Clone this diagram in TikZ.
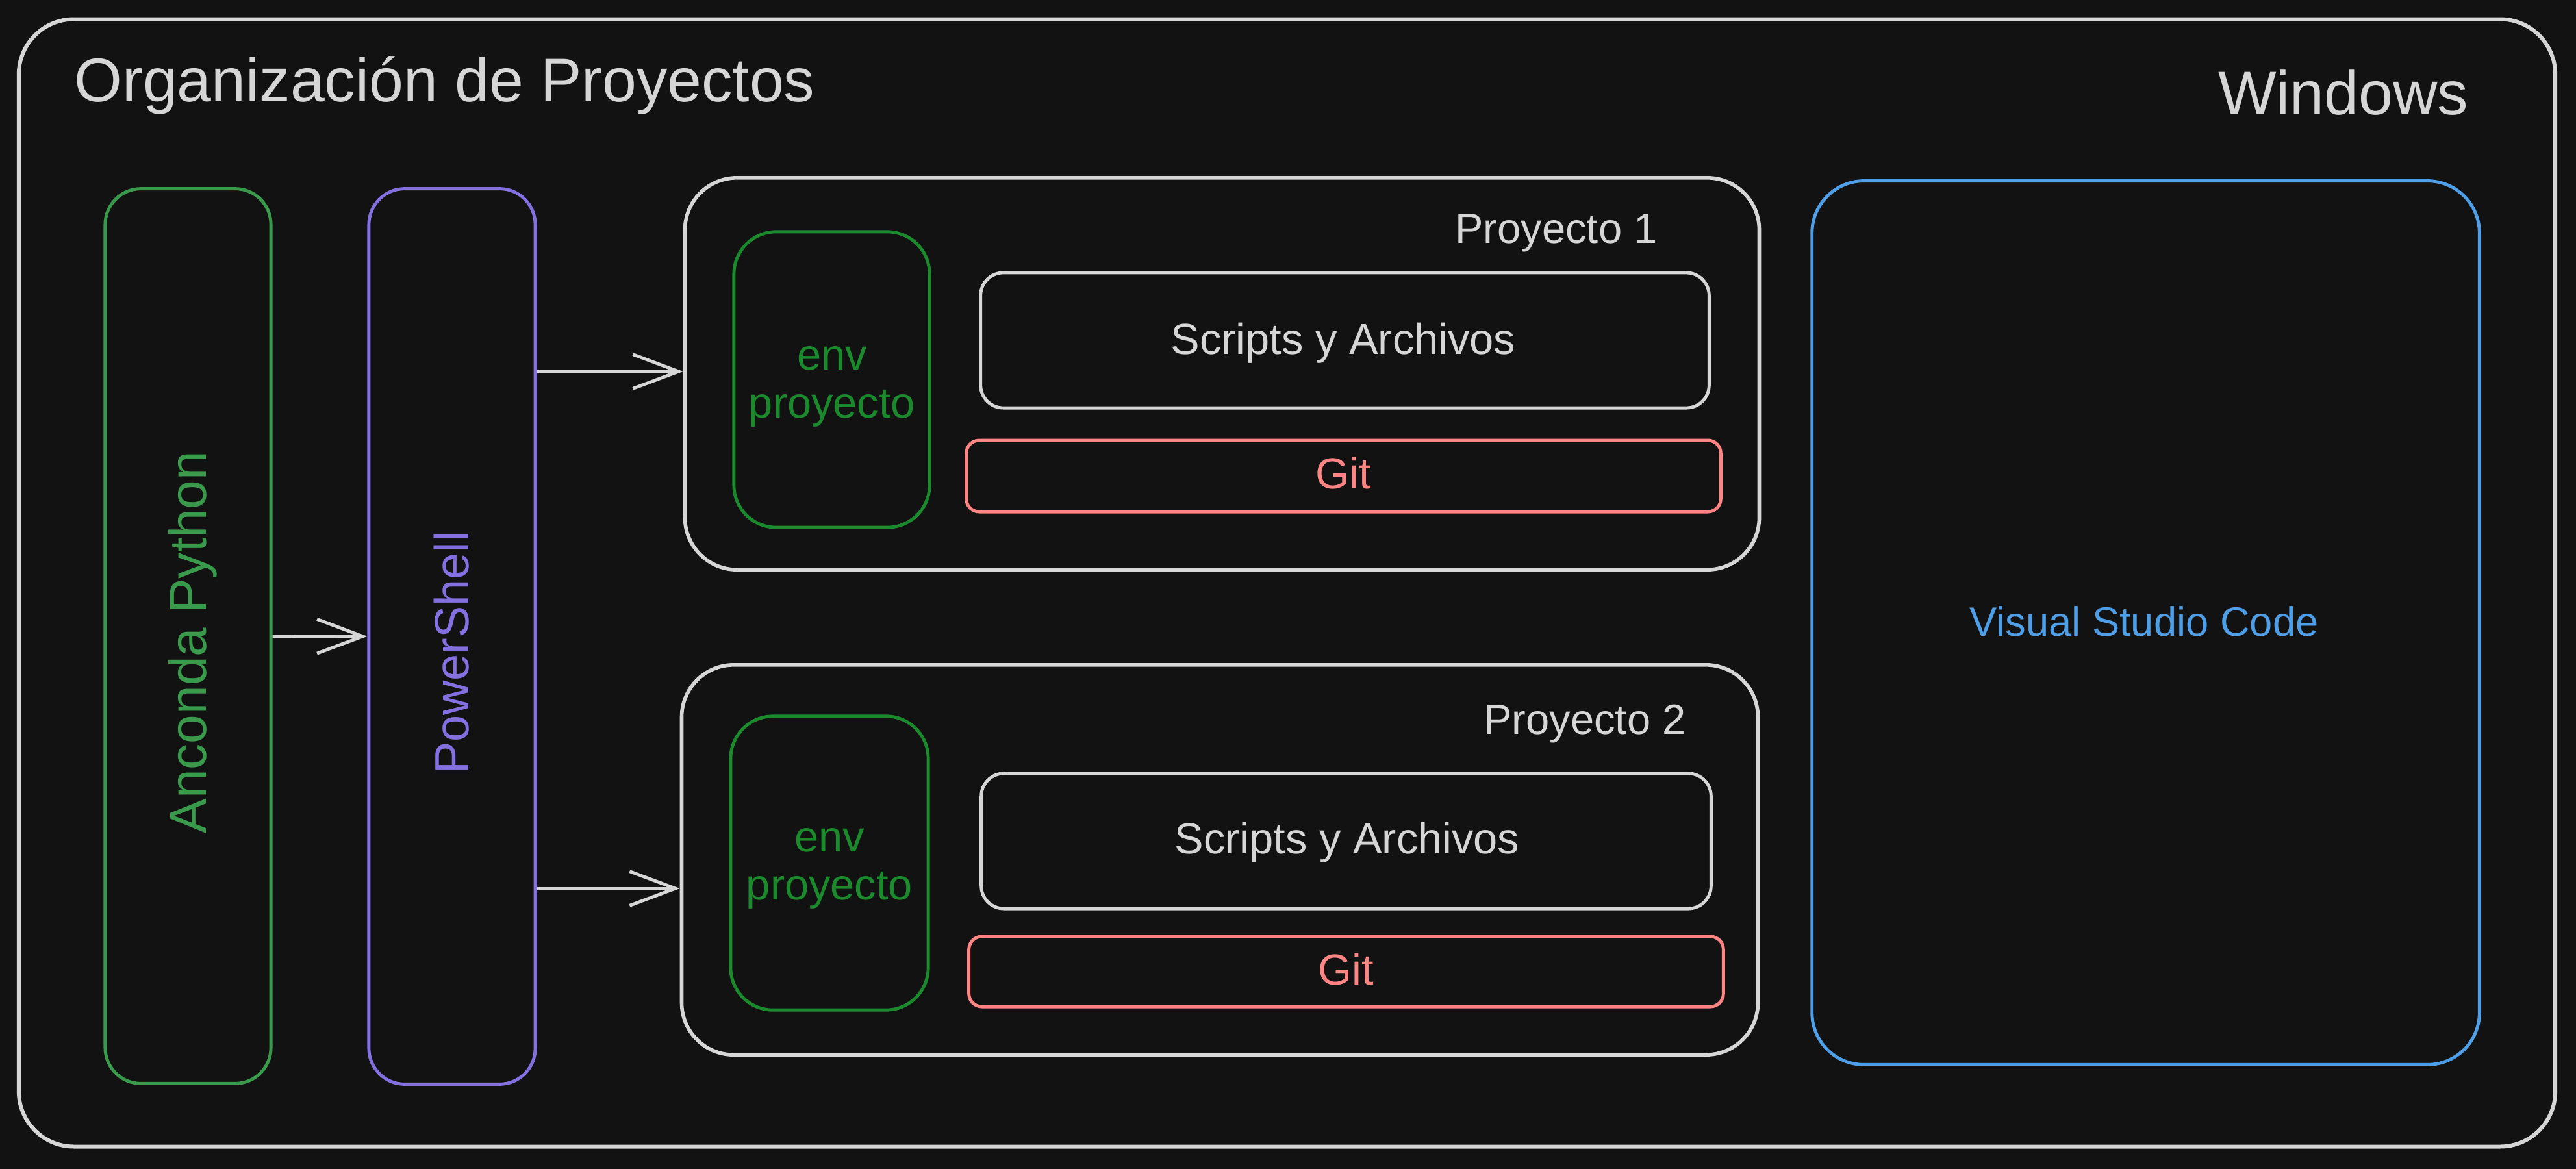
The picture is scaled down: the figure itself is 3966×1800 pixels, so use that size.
\documentclass[tikz,border=0pt]{standalone}
\usepackage{fontspec}
\setmainfont{Liberation Sans}
\usetikzlibrary{arrows.meta}
\definecolor{bg}{HTML}{121212}
\definecolor{fg}{HTML}{D6D6D6}
\definecolor{cgreen}{HTML}{3A9A4B}
\definecolor{cenv}{HTML}{1B8A2D}
\definecolor{cpurple}{HTML}{8470E0}
\definecolor{cblue}{HTML}{4E9FE8}
\definecolor{cred}{HTML}{FF8585}
\begin{document}
\begin{tikzpicture}[x=0.01cm,y=-0.01cm,
  boxx/.style={draw=#1, line width=1.4pt, inner sep=0pt, fill=bg},
  arr/.style={draw=fg, line width=1.4pt, -{Straight Barb[length=20pt,width=15pt,line width=1.4pt]}},
  txt/.style={inner sep=0pt, text=#1}]
\fill[bg] (0,0) rectangle (3966,1800);
\useasboundingbox (0,0) rectangle (3966,1800);

% outer frame
\node[boxx=fg, line width=1.7pt, rounded corners=0.85cm, minimum width=39.03cm, minimum height=17.35cm] (frame) at (1981.5,897.5) {};
\node[txt=fg, anchor=base west, font=\fontsize{27pt}{30pt}\selectfont] (title) at (114,157) {Organización de Proyectos};
\node[txt=fg, anchor=base east, font=\fontsize{27pt}{30pt}\selectfont] (win) at (3801,177) {Windows};

% Anaconda
\node[boxx=cgreen, rounded corners=0.55cm, minimum width=2.55cm, minimum height=13.77cm] (ana) at (289.5,979.5) {};
\node[txt=cgreen, rotate=90, anchor=base, font=\fontsize{22.8pt}{26pt}\selectfont] (anat) at (317,989) {Anconda Python};

% PowerShell
\node[boxx=cpurple, rounded corners=0.55cm, minimum width=2.56cm, minimum height=13.78cm] (ps) at (696,980) {};
\node[txt=cpurple, rotate=90, anchor=base, font=\fontsize{21pt}{24pt}\selectfont] (pst) at (721,1005) {PowerShell};

% Proyecto 1
\node[boxx=fg, line width=1.6pt, rounded corners=0.8cm, minimum width=16.53cm, minimum height=6.03cm] (p1) at (1881.5,575.5) {};
\node[txt=fg, anchor=base, font=\fontsize{18.5pt}{22pt}\selectfont] (p1t) at (2396,374) {Proyecto 1};
\node[boxx=cenv, rounded corners=0.65cm, minimum width=3.01cm, minimum height=4.55cm] (env1) at (1280.5,584.5) {};
\node[txt=cenv, anchor=base, font=\fontsize{19pt}{22pt}\selectfont] (env1a) at (1281,569) {env};
\node[txt=cenv, anchor=base, font=\fontsize{19pt}{22pt}\selectfont] (env1b) at (1281,643) {proyecto};
\node[boxx=fg, rounded corners=0.35cm, minimum width=11.21cm, minimum height=2.08cm] (scr1) at (2070.5,524) {};
\node[txt=fg, anchor=base, font=\fontsize{19pt}{22pt}\selectfont] (scr1t) at (2068,545) {Scripts y Archivos};
\node[boxx=cred, rounded corners=0.2cm, minimum width=11.61cm, minimum height=1.10cm] (git1) at (2068.5,733) {};
\node[txt=cred, anchor=base, font=\fontsize{19pt}{22pt}\selectfont] (git1t) at (2068,752) {Git};

% Proyecto 2
\node[boxx=fg, line width=1.6pt, rounded corners=0.8cm, minimum width=16.56cm, minimum height=6.00cm] (p2) at (1878,1324) {};
\node[txt=fg, anchor=base, font=\fontsize{18.5pt}{22pt}\selectfont] (p2t) at (2440,1130) {Proyecto 2};
\node[boxx=cenv, rounded corners=0.65cm, minimum width=3.04cm, minimum height=4.52cm] (env2) at (1277,1329) {};
\node[txt=cenv, anchor=base, font=\fontsize{19pt}{22pt}\selectfont] (env2a) at (1277,1311) {env};
\node[txt=cenv, anchor=base, font=\fontsize{19pt}{22pt}\selectfont] (env2b) at (1277,1385) {proyecto};
\node[boxx=fg, rounded corners=0.35cm, minimum width=11.23cm, minimum height=2.08cm] (scr2) at (2072.5,1295) {};
\node[txt=fg, anchor=base, font=\fontsize{19pt}{22pt}\selectfont] (scr2t) at (2074,1314) {Scripts y Archivos};
\node[boxx=cred, rounded corners=0.2cm, minimum width=11.61cm, minimum height=1.08cm] (git2) at (2072.5,1496) {};
\node[txt=cred, anchor=base, font=\fontsize{19pt}{22pt}\selectfont] (git2t) at (2072,1516) {Git};

% VS Code
\node[boxx=cblue, rounded corners=0.8cm, minimum width=10.27cm, minimum height=13.60cm] (vsc) at (3303.5,959) {};
\node[txt=cblue, anchor=base, font=\fontsize{18pt}{21pt}\selectfont] (vsct) at (3301,979) {Visual Studio Code};

% connectors
\draw[arr] (ana) -- (ps);
\draw[arr] (ps.east |- 0,572) -- (p1.west |- 0,572);
\draw[arr] (ps.east |- 0,1368) -- (p2.west |- 0,1368);
\end{tikzpicture}
\end{document}
